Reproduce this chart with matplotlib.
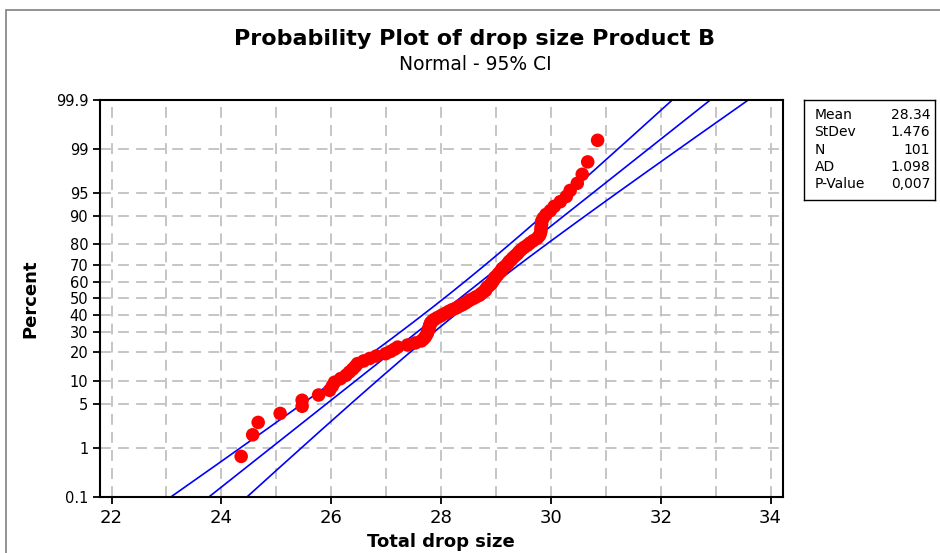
import numpy as np
import matplotlib
matplotlib.use("Agg")
import matplotlib.pyplot as plt
from matplotlib.patches import Rectangle
from statistics import NormalDist

# Total drop size measurements, Product B (sorted)
drop_size = [
    24.36, 24.57, 24.67, 25.07, 25.47, 25.47, 25.77, 25.97, 26.02, 26.06,
    26.17, 26.27, 26.33, 26.39, 26.44, 26.48, 26.59, 26.70, 26.82, 26.99,
    27.08, 27.15, 27.21, 27.39, 27.53, 27.64, 27.68, 27.71, 27.73, 27.75,
    27.76, 27.77, 27.78, 27.79, 27.80, 27.81, 27.84, 27.88, 27.93, 27.99,
    28.04, 28.10, 28.15, 28.21, 28.28, 28.33, 28.39, 28.44, 28.48, 28.53,
    28.59, 28.64, 28.70, 28.73, 28.77, 28.81, 28.82, 28.84, 28.88, 28.91,
    28.93, 28.95, 28.97, 28.98, 29.02, 29.04, 29.07, 29.10, 29.11, 29.15,
    29.19, 29.22, 29.24, 29.28, 29.31, 29.35, 29.39, 29.42, 29.46, 29.51,
    29.57, 29.62, 29.68, 29.75, 29.79, 29.81, 29.82, 29.82, 29.83, 29.83,
    29.86, 29.91, 29.99, 30.06, 30.17, 30.28, 30.35, 30.48, 30.57, 30.67,
    30.85,
]

mean = 28.34
stdev = 1.476
n_obs = 101
ad_stat = 1.098
p_value = "0,007"

pct_ticks = [0.1, 1, 5, 10, 20, 30, 40, 50, 60, 70, 80, 90, 95, 99, 99.9]
x_ticks = [22, 24, 26, 28, 30, 32, 34]
x_grid = list(range(22, 35))

nd = NormalDist()
_ppf = np.vectorize(lambda v: nd.inv_cdf(v), otypes=[float])
_cdf = np.vectorize(lambda v: nd.cdf(v), otypes=[float])


def pct_to_z(p):
    p = np.clip(np.asarray(p, dtype=float), 1e-7, 100 - 1e-7)
    return _ppf(p / 100.0)


def z_to_pct(z):
    return _cdf(np.asarray(z, dtype=float)) * 100.0


fig = plt.figure(figsize=(9.4, 5.53), dpi=100)
fig.patch.set_facecolor("white")

# outer frame line (top and left edges visible)
fig.patches.append(Rectangle((6 / 940, -0.05), 1.2, 1 - 10 / 553 + 0.05,
                             transform=fig.transFigure, fill=False,
                             edgecolor="#808080", linewidth=1.2))

ax = fig.add_axes([100 / 940, 1 - 496.7 / 553, 682.7 / 940, 396.7 / 553])
ax.set_yscale("function", functions=(pct_to_z, z_to_pct))
ax.set_xlim(21.79, 34.22)
ax.set_ylim(0.1, 99.9)

# grid
for g in x_grid:
    ax.axvline(g, color="#c0c0c0", lw=1.3, ls=(0, (6, 4)), zorder=0)
for t in pct_ticks[1:-1]:
    ax.axhline(t, color="#c0c0c0", lw=1.3, ls=(0, (6, 4)), zorder=0)

# fitted line and 95% confidence bounds
z = np.linspace(-3.4, 3.4, 300)
pct_line = z_to_pct(z)
x_fit = mean + z * stdev
se = stdev / np.sqrt(n_obs) * np.sqrt(1 + z ** 2 / 2)
for xs in (x_fit - 1.96 * se, x_fit, x_fit + 1.96 * se):
    ax.plot(xs, pct_line, color="#0000ff", lw=1.2, zorder=2)

# data points at median-rank plotting positions
xs = np.sort(np.array(drop_size))
ranks = np.arange(1, len(xs) + 1)
pct_pos = (ranks - 0.3) / (len(xs) + 0.4) * 100
ax.scatter(xs, pct_pos, s=95, color="#ff0000", edgecolors="none", zorder=3)

ax.set_xticks(x_ticks)
ax.set_xticklabels([str(t) for t in x_ticks], fontsize=13)
ax.set_yticks(pct_ticks)
ax.set_yticklabels([f"{t:g}" for t in pct_ticks], fontsize=10.5)
ax.yaxis.set_minor_locator(matplotlib.ticker.NullLocator())
ax.tick_params(direction="out", length=5, width=1.3, color="black")
for sp in ax.spines.values():
    sp.set_linewidth(1.5)

ax.set_xlabel("Total drop size", fontsize=13, fontweight="bold", labelpad=5)
ax.set_ylabel("Percent", fontsize=13, fontweight="bold", labelpad=12)

fig.text(475 / 940, 1 - 39 / 553, "Probability Plot of drop size Product B",
         ha="center", va="center", fontsize=16, fontweight="bold")
fig.text(475 / 940, 1 - 65 / 553, "Normal - 95% CI",
         ha="center", va="center", fontsize=13.5)

# statistics box
box = fig.add_axes([804 / 940, 1 - 200 / 553, 131 / 940, 100 / 553])
box.set_xticks([])
box.set_yticks([])
for sp in box.spines.values():
    sp.set_linewidth(1.0)
rows = [("Mean", f"{mean:.2f}"), ("StDev", f"{stdev:.3f}"), ("N", str(n_obs)),
        ("AD", f"{ad_stat:.3f}"), ("P-Value", p_value)]
for k, (name, val) in enumerate(rows):
    yy = 0.85 - k * 0.173
    box.text(0.08, yy, name, fontsize=10, va="center", ha="left", transform=box.transAxes)
    box.text(0.965, yy, val, fontsize=10, va="center", ha="right", transform=box.transAxes)

fig.savefig("out.png", dpi=100)
